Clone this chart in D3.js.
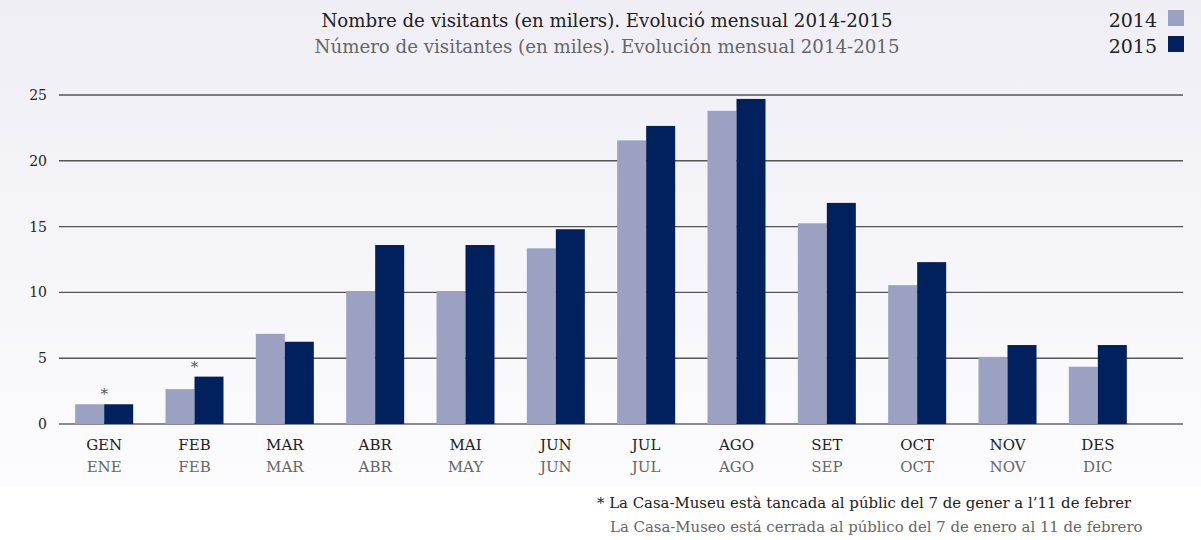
<!DOCTYPE html>
<html lang="ca">
<head>
    <meta charset="UTF-8">
    <title>Nombre de visitants</title>
    <script src="https://d3js.org/d3.v7.min.js"></script>
</head>
<body style="margin: 0px; background: #fff;">

    <script>

        var months=['GEN','FEB','MAR','ABR','MAI','JUN','JUL','AGO','SET','OCT','NOV','DES'];
        var monthsEs=['ENE','FEB','MAR','ABR','MAY','JUN','JUL','AGO','SEP','OCT','NOV','DIC'];
        var values2014=[1.5,2.65,6.85,10.1,10.1,13.35,21.55,23.8,15.25,10.55,5.1,4.35];
        var values2015=[1.5,3.6,6.25,13.6,13.6,14.8,22.65,24.7,16.8,12.3,6.0,6.0];
        var yTicks=[0,5,10,15,20,25];
        var years=['2014','2015'];
        var colors=['#9aa1c3','#00215e'];
        var starred=['GEN','FEB'];

        var width=1201;
        var height=540;
        var font='"DejaVu Serif", serif';

        var svg=d3.select('body').append('svg')
                .attr('width',width)
                .attr('height',height)
                .style('display','block');

        var grad=svg.append('defs').append('linearGradient')
                .attr('id','bg').attr('x1',0).attr('y1',0).attr('x2',0).attr('y2',1);
        grad.append('stop').attr('offset','0%').attr('stop-color','#efeef5');
        grad.append('stop').attr('offset','100%').attr('stop-color','#fcfcfe');
        svg.append('rect').attr('width',width).attr('height',486).attr('fill','url(#bg)');

        var x=d3.scaleBand().domain(months).range([59,1143]);
        var y=d3.scaleLinear().domain([0,25]).range([424,95]);
        var bw=29;

        // grid
        svg.selectAll('line.grid').data(yTicks).enter().append('line')
                .attr('x1',59).attr('x2',1183)
                .attr('y1',function(d){return y(d);})
                .attr('y2',function(d){return y(d);})
                .attr('stroke',function(d){return d==0?'#8a8a8a':'#555';})
                .attr('stroke-width',function(d){return d==0?2.2:1.4;});

        svg.selectAll('text.ytick').data(yTicks).enter().append('text')
                .attr('x',47).attr('y',function(d){return y(d)+5;})
                .attr('text-anchor','end')
                .style('font-family',font).style('font-size','14px').style('fill','#222')
                .text(function(d){return d;});

        // bars
        [values2014,values2015].forEach(function(vals,k){
            svg.selectAll('rect.s'+k).data(vals).enter().append('rect')
                    .attr('class','s'+k)
                    .attr('x',function(d,i){return x(months[i])+x.bandwidth()/2-bw+k*bw;})
                    .attr('y',function(d){return y(d);})
                    .attr('width',bw)
                    .attr('height',function(d){return y(0)-y(d);})
                    .attr('fill',colors[k]);
        });

        // asterisks
        svg.selectAll('text.star').data(starred).enter().append('text')
                .attr('x',function(d){return x(d)+x.bandwidth()/2;})
                .attr('y',function(d){var i=months.indexOf(d);return y(Math.max(values2014[i],values2015[i]))-5;})
                .attr('text-anchor','middle')
                .style('font-family',font).style('font-size','15px').style('fill','#555')
                .text('*');

        // x labels
        svg.selectAll('text.m1').data(months).enter().append('text')
                .attr('x',function(d){return x(d)+x.bandwidth()/2;})
                .attr('y',450)
                .attr('text-anchor','middle')
                .style('font-family',font).style('font-size','15px').style('fill','#222')
                .text(function(d){return d;});
        svg.selectAll('text.m2').data(monthsEs).enter().append('text')
                .attr('x',function(d,i){return x(months[i])+x.bandwidth()/2;})
                .attr('y',472)
                .attr('text-anchor','middle')
                .style('font-family',font).style('font-size','15px').style('fill','#666')
                .text(function(d){return d;});

        // titles
        svg.append('text').attr('x',607).attr('y',27).attr('text-anchor','middle')
                .style('font-family',font).style('font-size','18.2px').style('fill','#222')
                .text('Nombre de visitants (en milers). Evolució mensual 2014-2015');
        svg.append('text').attr('x',607).attr('y',53).attr('text-anchor','middle')
                .style('font-family',font).style('font-size','18.2px').style('fill','#666')
                .text('Número de visitantes (en miles). Evolución mensual 2014-2015');

        // legend
        var lg=svg.selectAll('g.legend').data(years).enter().append('g')
                .attr('transform',function(d,i){return 'translate(0,'+(i*26)+')';});
        lg.append('text').attr('x',1157).attr('y',27).attr('text-anchor','end')
                .style('font-family',font).style('font-size','19px').style('fill','#222')
                .text(function(d){return d;});
        lg.append('rect').attr('x',1168).attr('y',10).attr('width',16).attr('height',16)
                .attr('fill',function(d,i){return colors[i];});

        // footnote
        svg.append('text').attr('x',597).attr('y',508)
                .style('font-family',font).style('font-size','14.9px').style('fill','#222')
                .text('* La Casa-Museu està tancada al públic del 7 de gener a l’11 de febrer');
        svg.append('text').attr('x',610).attr('y',532)
                .style('font-family',font).style('font-size','14.9px').style('fill','#666')
                .text('La Casa-Museo está cerrada al público del 7 de enero al 11 de febrero');
    </script>
</body>
</html>
